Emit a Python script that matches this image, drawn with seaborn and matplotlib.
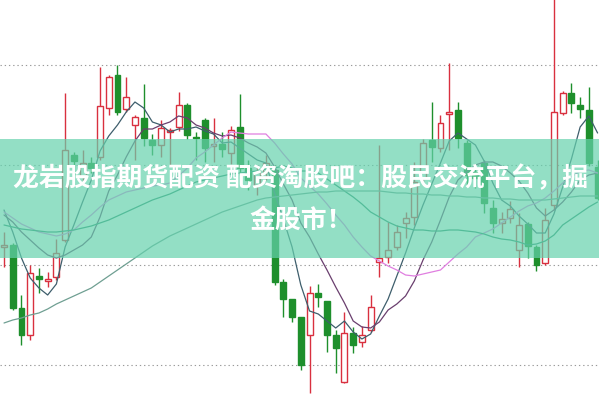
import numpy as np
import pandas as pd
import matplotlib
matplotlib.use("Agg")
import matplotlib.pyplot as plt
import seaborn as sns

# ---------------- data ----------------
opens = [21.8, 22.0, 15.7, 13.0, 18.9, 18.4, 18.8, 22.5, 31.0, 28.9,
         30.2, 30.8, 35.7, 39.0, 35.6, 34.0, 34.7, 32.5, 32.0, 33.3,
         33.8, 36.0, 32.8, 34.5, 31.9, 32.1, 31.2, 33.8, 29.7, 28.0,
         29.3, 29.5, 18.3, 16.6, 14.8, 13.0, 17.2, 16.4, 13.0, 8.3,
         13.2, 12.3, 13.5, 20.3, 20.8, 21.8, 24.2, 24.8, 28.7, 32.5,
         31.7, 35.1, 35.5, 32.2, 29.3, 30.2, 25.7, 24.2, 24.7, 21.5,
         24.1, 21.8, 20.2, 26.0, 35.2, 37.2, 36.0, 35.5, 29.8]
closes = [22.0, 15.7, 13.0, 19.2, 18.6, 18.6, 21.2, 31.5, 30.4, 30.2,
          29.7, 35.9, 38.8, 35.3, 36.8, 34.8, 32.7, 32.0, 33.7, 33.5,
          36.0, 33.0, 32.7, 31.7, 32.1, 31.6, 33.5, 29.7, 28.5, 29.3,
          30.2, 18.3, 16.6, 14.8, 10.0, 17.2, 16.8, 13.0, 11.7, 13.2,
          12.0, 13.0, 15.8, 20.7, 21.5, 23.3, 24.7, 28.3, 32.2, 31.8,
          34.2, 35.3, 32.7, 29.0, 28.7, 26.2, 24.2, 24.6, 25.6, 24.0,
          21.9, 20.0, 24.5, 35.3, 37.2, 36.2, 35.6, 30.2, 26.7]
highs = [23.3, 22.2, 17.0, 20.0, 19.7, 19.3, 22.6, 37.2, 31.3, 31.5,
         30.8, 39.8, 39.0, 40.0, 38.8, 35.0, 38.1, 33.1, 34.5, 33.7,
         37.3, 36.2, 33.3, 34.7, 34.7, 33.3, 33.9, 37.1, 30.5, 30.0,
         31.0, 30.0, 18.6, 16.6, 14.8, 17.9, 18.1, 16.4, 13.5, 15.3,
         13.8, 13.9, 17.0, 32.0, 24.3, 24.0, 25.3, 30.3, 32.6, 36.3,
         35.0, 40.2, 36.3, 32.5, 29.7, 30.5, 26.5, 25.3, 26.4, 25.2,
         24.3, 22.0, 25.7, 47.0, 37.4, 38.2, 36.8, 37.8, 30.5]
lows = [19.8, 15.5, 12.0, 12.5, 17.2, 17.8, 18.5, 22.3, 29.0, 28.0,
        29.2, 30.5, 35.0, 35.0, 35.3, 30.5, 31.9, 31.0, 30.8, 30.0,
        33.4, 32.6, 30.5, 30.3, 30.3, 30.8, 30.1, 29.0, 27.5, 27.0,
        28.5, 18.0, 14.8, 14.3, 9.5, 7.2, 15.8, 11.3, 9.2, 8.2,
        11.2, 11.8, 13.3, 18.8, 20.2, 21.5, 22.7, 24.0, 28.0, 30.3,
        31.3, 31.5, 31.7, 28.0, 27.7, 25.2, 23.2, 23.2, 24.2, 19.8,
        20.7, 19.4, 20.0, 25.5, 35.0, 35.2, 34.7, 29.9, 26.5]

ma5 = [25.5, 23.3, 20.7, 18.7, 17.7, 17.0, 18.1, 21.8, 24.0, 26.3,
       28.5, 31.4, 32.9, 34.0, 35.3, 36.3, 35.7, 34.3, 34.0, 33.3,
       33.6, 33.6, 33.8, 33.4, 33.1, 32.2, 32.3, 31.7, 31.1, 30.5,
       30.2, 27.2, 24.6, 21.8, 18.0, 15.4, 15.1, 14.4, 13.7, 14.4,
       13.3, 12.6, 13.1, 14.9, 16.6, 18.9, 21.2, 23.7, 26.0, 28.1,
       30.2, 32.4, 33.2, 32.6, 32.0, 30.4, 28.2, 26.5, 25.9, 24.9,
       24.1, 23.2, 23.2, 25.1, 27.8, 30.6, 33.8, 34.9, 33.2]
ma10 = [25.0, 24.3, 23.3, 22.5, 21.7, 21.0, 20.7, 21.0, 21.5, 22.0,
        22.8, 24.8, 27.4, 29.0, 30.8, 32.4, 33.6, 33.6, 34.0, 34.3,
        34.9, 34.7, 34.0, 33.7, 33.2, 32.9, 33.0, 32.7, 32.2, 31.8,
        31.2, 29.8, 28.1, 26.5, 24.2, 22.8, 21.1, 19.5, 17.8, 16.2,
        14.4, 13.8, 13.7, 14.3, 15.5, 16.1, 16.9, 18.4, 20.5, 22.3,
        24.5, 26.8, 28.5, 29.3, 30.0, 30.3, 30.3, 29.9, 29.2, 28.4,
        27.2, 25.7, 24.9, 25.5, 26.3, 27.3, 28.5, 29.0, 29.2]
ma20 = [25.3, 24.7, 24.1, 23.7, 23.3, 23.1, 22.9, 23.1, 23.5, 24.3,
        25.0, 25.8, 26.5, 26.9, 27.3, 27.5, 27.7, 27.9, 28.0, 28.2,
        28.9, 29.7, 30.7, 31.3, 32.0, 32.7, 33.3, 33.2, 33.1, 33.1,
        33.1, 32.2, 31.1, 30.1, 28.7, 27.9, 27.1, 26.1, 25.0, 24.0,
        22.8, 21.8, 20.9, 20.4, 19.9, 19.5, 19.0, 18.9, 19.1, 19.3,
        19.5, 20.3, 21.1, 21.8, 22.8, 23.2, 23.6, 24.2, 24.8, 25.4,
        25.9, 26.2, 26.7, 27.4, 28.2, 28.8, 29.4, 29.5, 29.2]
ma30 = [24.0, 23.8, 23.6, 23.5, 23.4, 23.3, 23.3, 23.4, 23.5, 23.7,
        23.9, 24.2, 24.5, 24.9, 25.3, 25.7, 26.1, 26.5, 26.8, 27.1,
        27.5, 27.9, 28.3, 28.5, 28.7, 28.9, 29.1, 29.2, 29.3, 29.4,
        29.6, 29.7, 29.9, 29.7, 29.4, 29.4, 29.2, 28.6, 28.0, 27.4,
        26.8, 26.1, 25.3, 24.8, 24.3, 23.9, 23.7, 23.5, 23.5, 23.4,
        23.4, 23.5, 23.5, 23.4, 23.3, 23.1, 22.8, 22.6, 22.5, 22.3,
        22.0, 22.1, 22.4, 23.0, 24.0, 24.6, 25.2, 25.8, 26.3]
ma60 = [14.2, 14.5, 14.7, 15.0, 15.2, 15.6, 16.1, 16.5, 16.9, 17.3,
        17.7, 18.3, 18.9, 19.5, 20.1, 20.7, 21.3, 21.9, 22.4, 22.9,
        23.3, 23.7, 24.1, 24.5, 24.9, 25.3, 25.6, 25.9, 26.2, 26.5,
        26.7, 26.8, 26.9, 27.0, 27.1, 27.2, 27.3, 27.3, 27.4, 27.4,
        27.4, 27.4, 27.4, 27.4, 27.3, 27.2, 27.2, 27.1, 27.1, 27.0,
        27.0, 26.9, 26.9, 26.8, 26.8, 26.7, 26.7, 26.6, 26.6, 26.5,
        26.5, 26.5, 26.5, 26.6, 26.7, 26.8, 26.9, 26.9, 26.9]

grid_levels = [10, 20, 30, 40]
banner_line1 = "龙岩股指期货配资 配资淘股吧：股民交流平台，掘"
banner_line2 = "金股市！"

# ---------------- drawing ----------------
sns.set_style("white")
plt.rcParams['font.family'] = ['Noto Sans CJK SC', 'DejaVu Sans']

fig = plt.figure(figsize=(5.99, 3.99), dpi=100)
ax = fig.add_axes([0, 0, 1, 1])
ax.set_xlim(-0.46, 68.16)
ax.set_ylim(6.6, 46.5)
ax.axis('off')

for g in grid_levels:
    ax.axhline(g, color='#9a9a9a', lw=0.8, linestyle=(0, (1.2, 2.6)), zorder=1)

n = len(opens)
idx = np.arange(n)
UP = '#d9303f'
DOWN = '#1e8f2c'
body_w = 0.68
for i in range(n):
    o, c, h, l = opens[i], closes[i], highs[i], lows[i]
    up = c >= o
    col = UP if up else DOWN
    ax.vlines(i, l, h, color=col, lw=1.0, zorder=2)
    bottom = min(o, c)
    height = max(abs(c - o), 0.12)
    if up:
        ax.bar(i, height, bottom=bottom, width=body_w, facecolor='white',
               edgecolor=col, linewidth=1.0, zorder=2.5)
    else:
        ax.bar(i, height, bottom=bottom, width=body_w, facecolor=col,
               edgecolor=col, linewidth=1.0, zorder=2.5)

ma_df = pd.DataFrame({
    'idx': np.tile(idx, 5),
    'value': ma5 + ma10 + ma20 + ma30 + ma60,
    'ma': ['MA5'] * n + ['MA10'] * n + ['MA20'] * n + ['MA30'] * n + ['MA60'] * n,
})
palette = {'MA5': '#3e5e6c', 'MA10': '#6a3f6e', 'MA20': '#e07fe0',
           'MA30': '#2b8a6c', 'MA60': '#6f9f92'}
sns.lineplot(data=ma_df, x='idx', y='value', hue='ma', palette=palette,
             legend=False, linewidth=0.9, ax=ax, zorder=3)

# banner overlay
ax.axhspan(46.5 - 25.8, 46.5 - 13.9, color=(101/255, 210/255, 173/255),
           alpha=0.7, lw=0, zorder=4)

fig.text(0.502, 1 - 179/399, banner_line1, ha='center', va='center',
         color='white', fontsize=18.6, fontweight='bold', zorder=5)
fig.text(0.502, 1 - 220/399, banner_line2, ha='center', va='center',
         color='white', fontsize=18.6, fontweight='bold', zorder=5)

fig.savefig('out.png', dpi=100)
